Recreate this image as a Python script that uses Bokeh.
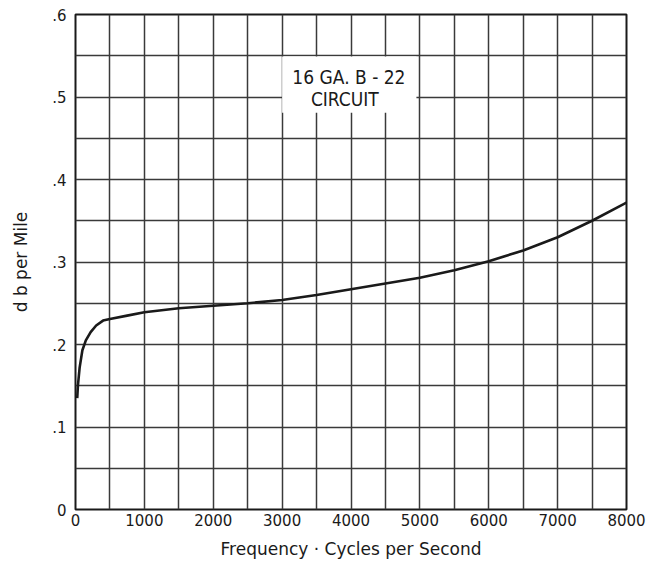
from bokeh.plotting import figure
from bokeh.models import FixedTicker, Range1d, BoxAnnotation, Label
from bokeh.embed import file_html
from bokeh.resources import INLINE

# Data
freq = [25, 35, 60, 100, 150, 220, 300, 400, 500, 750, 1000, 1500, 2000, 2500,
        3000, 3500, 4000, 4500, 5000, 5500, 6000, 6500, 7000, 7500, 8000]
db_per_mile = [0.135, 0.150, 0.172, 0.193, 0.205, 0.215, 0.223, 0.229, 0.231,
               0.235, 0.239, 0.244, 0.247, 0.250, 0.254, 0.260, 0.267, 0.274,
               0.281, 0.290, 0.301, 0.314, 0.330, 0.350, 0.372]

x_ticks = [0, 1000, 2000, 3000, 4000, 5000, 6000, 7000, 8000]
x_grid = [0, 500, 1000, 1500, 2000, 2500, 3000, 3500, 4000, 4500, 5000,
          5500, 6000, 6500, 7000, 7500, 8000]
y_ticks = [0, 0.1, 0.2, 0.3, 0.4, 0.5, 0.6]
y_tick_labels = ["0", ".1", ".2", ".3", ".4", ".5", ".6"]
y_grid = [0, 0.05, 0.1, 0.15, 0.2, 0.25, 0.3, 0.35, 0.4, 0.45, 0.5, 0.55, 0.6]

annotation_lines = ["16 GA. B - 22", "CIRCUIT"]

FONT = "DejaVu Sans"
NOTE_FONT = "DejaVu Sans Condensed"
INK = "#1a1a1a"

p = figure(frame_width=551, frame_height=495, output_backend="svg",
           toolbar_location=None,
           x_range=Range1d(0, 8000), y_range=Range1d(0, 0.6),
           min_border_left=75, min_border_top=14, min_border_right=28,
           min_border_bottom=10)

p.background_fill_color = "white"
p.border_fill_color = "white"
p.outline_line_color = INK
p.outline_line_width = 2

# grids
p.xgrid.ticker = FixedTicker(ticks=x_grid)
p.ygrid.ticker = FixedTicker(ticks=y_grid)
for g in (p.xgrid, p.ygrid):
    g.grid_line_color = "#3a3a3a"
    g.grid_line_width = 1.5
    g.grid_line_alpha = 1.0

# axes
p.xaxis.ticker = FixedTicker(ticks=x_ticks)
p.yaxis.ticker = FixedTicker(ticks=y_ticks)
p.yaxis.major_label_overrides = {t: l for t, l in zip(y_ticks, y_tick_labels)}
for ax in (p.xaxis, p.yaxis):
    ax.axis_line_color = None
    ax.major_tick_line_color = None
    ax.minor_tick_line_color = None
    ax.major_tick_out = 0
    ax.major_tick_in = 0
    ax.minor_tick_out = 0
    ax.minor_tick_in = 0
    ax.major_label_text_font = FONT
    ax.major_label_text_font_size = "15px"
    ax.major_label_text_color = INK
    ax.axis_label_text_font = FONT
    ax.axis_label_text_font_style = "normal"
    ax.axis_label_text_font_size = "17px"
    ax.axis_label_text_color = INK
p.xaxis.major_label_standoff = 4
p.yaxis.major_label_standoff = 9
p.xaxis.axis_label = "Frequency \u00b7 Cycles per Second"
p.yaxis.axis_label = "d b per Mile"
p.xaxis.axis_label_standoff = 10
p.yaxis.axis_label_standoff = 18

# curve
p.line(freq, db_per_mile, line_color=INK, line_width=2.6)

# annotation box
box = BoxAnnotation(left=3000, right=4950, bottom=0.481, top=0.549,
                    fill_color="white", fill_alpha=1.0, line_color=None)
p.add_layout(box)
p.add_layout(Label(x=3970, y=0.524, text=annotation_lines[0], text_align="center",
                   text_baseline="middle", text_font=NOTE_FONT, text_font_size="19px",
                   text_color=INK))
p.add_layout(Label(x=3910, y=0.498, text=annotation_lines[1], text_align="center",
                   text_baseline="middle", text_font=NOTE_FONT, text_font_size="19px",
                   text_color=INK))

open("out.html", "w").write(file_html(p, INLINE))
